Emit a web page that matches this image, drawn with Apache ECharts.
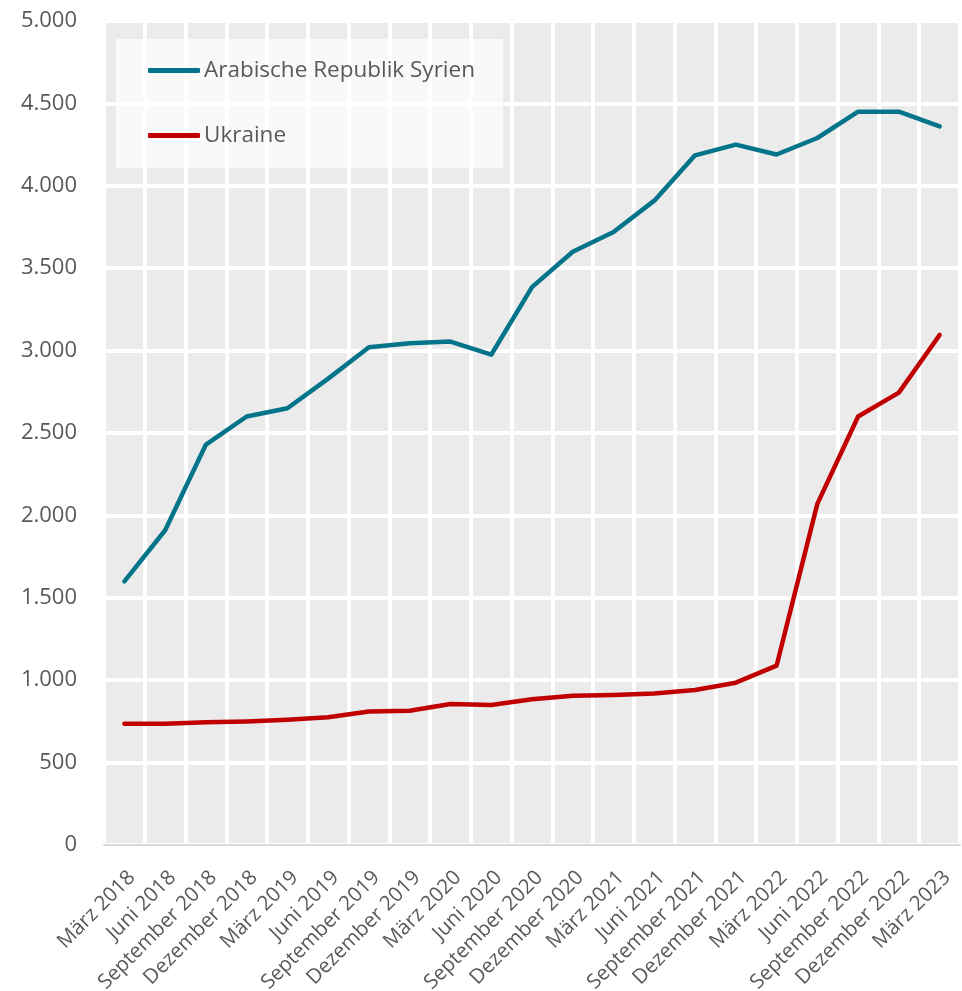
<!DOCTYPE html>
<html>
<head>
<meta charset="utf-8">
<script src="https://cdn.jsdelivr.net/npm/echarts@6/dist/echarts.min.js"></script>
<style>
html,body{margin:0;padding:0;background:#fff;}
#chart{width:962px;height:991px;}
</style>
</head>
<body>
<div id="chart"></div>
<script>
const categories = ["März 2018","Juni 2018","September 2018","Dezember 2018","März 2019","Juni 2019","September 2019","Dezember 2019","März 2020","Juni 2020","September 2020","Dezember 2020","März 2021","Juni 2021","September 2021","Dezember 2021","März 2022","Juni 2022","September 2022","Dezember 2022","März 2023"];
const syria = [1600,1910,2430,2600,2650,2830,3020,3045,3055,2975,3385,3600,3720,3910,4185,4250,4190,4290,4450,4450,4360];
const ukraine = [735,735,745,750,760,775,810,815,855,850,885,905,910,920,940,985,1088,2070,2600,2745,3095];
const seriesNames = ["Arabische Republik Syrien","Ukraine"];

const chart = echarts.init(document.getElementById('chart'));
const font = '"Open Sans", "Noto Sans", sans-serif';
chart.setOption({
  animation: false,
  textStyle: {fontFamily: font},
  grid: {left: 104, right: 2, top: 21, bottom: 146, show: true, backgroundColor: '#EBEBEB', borderWidth: 0,
    containLabel: false, outerBoundsMode: 'none'},
  legend: {
    orient: 'vertical', left: 116, top: 39,
    backgroundColor: 'rgba(255,255,255,0.7)',
    padding: [20, 28, 21, 32],
    itemGap: 42,
    itemWidth: 52, itemHeight: 5,
    icon: 'roundRect',
    textStyle: {fontSize: 22.5, color: '#595959', fontFamily: font, padding: [0,0,0,-1]},
    data: seriesNames
  },
  xAxis: {
    type: 'category',
    data: categories,
    boundaryGap: true,
    axisLine: {lineStyle: {color: '#D9D9D9', width: 2}},
    axisTick: {show: false},
    axisLabel: {rotate: 45, fontSize: 20.5, color: '#595959', margin: 22, interval: 0, fontFamily: font,
      align: 'right', verticalAlign: 'top', hideOverlap: false},
    splitLine: {show: true, interval: 0, lineStyle: {color: '#FFFFFF', width: 4}}
  },
  yAxis: {
    type: 'value', min: 0, max: 5000, interval: 500,
    axisLine: {show: false}, axisTick: {show: false},
    axisLabel: {fontSize: 22, color: '#595959', margin: 27, fontFamily: font,
      formatter: v => v.toLocaleString('de-DE')},
    splitLine: {lineStyle: {color: '#FFFFFF', width: 4}}
  },
  series: [
    {name: seriesNames[0], type: 'line', data: syria, symbol: 'none', color: '#04748A',
     lineStyle: {width: 4.5, color: '#04748A', cap: 'round', join: 'round'}},
    {name: seriesNames[1], type: 'line', data: ukraine, symbol: 'none', color: '#C00000',
     lineStyle: {width: 4.5, color: '#C00000', cap: 'round', join: 'round'}}
  ]
});
</script>
</body>
</html>
